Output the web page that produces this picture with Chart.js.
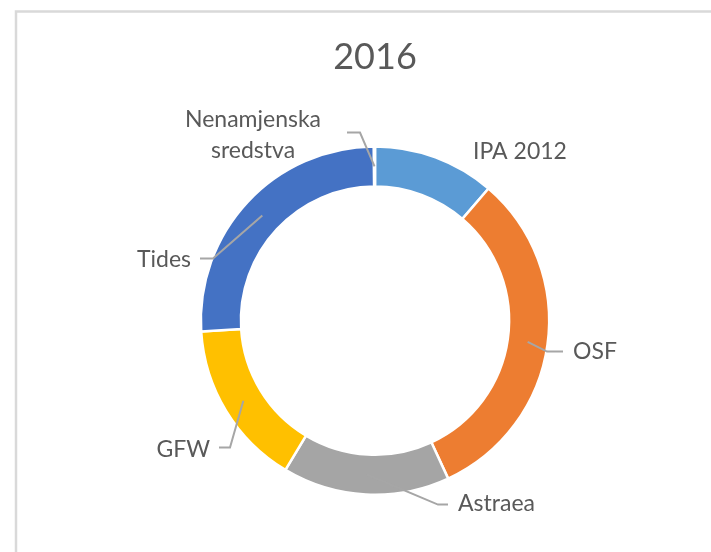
<!DOCTYPE html>
<html>
<head>
<meta charset="utf-8">
<script src="https://cdn.jsdelivr.net/npm/chart.js@4"></script>
<style>
  html, body { margin: 0; padding: 0; background: #fff; overflow: hidden; }
  #wrap { position: relative; width: 711px; height: 552px; }
</style>
</head>
<body>
<div id="wrap"><canvas id="donut" width="711" height="552"></canvas></div>
<script>
const chartTitle = '2016';
const categories = ['IPA 2012', 'OSF', 'Astraea', 'GFW', 'Tides', ['Nenamjenska', 'sredstva']];
const shares = [11.3, 31.8, 15.5, 15.4, 25.9, 0.1];
const colors = ['#5B9BD5', '#ED7D31', '#A5A5A5', '#FFC000', '#4472C4', '#70AD47'];

// where each label sits, relative to the doughnut centre (elbow/end of the leader line)
const labelSpots = [
    { align: 'left',   text: [98, -169] },
    { align: 'left',   text: [198, 31],   elbow: [172, 31],   end: [188, 31] },
    { align: 'left',   text: [83, 183],   elbow: [63, 184],   end: [73, 184] },
    { align: 'right',  text: [-165, 129], elbow: [-145, 127], end: [-156, 127] },
    { align: 'right',  text: [-184, -61], elbow: [-162, -62], end: [-175, -62] },
    { align: 'center', text: [-122, -201], elbow: [-15, -188], end: [-28, -188], lineGap: 31 }
];

const FONT = 'Lato, "Open Sans", sans-serif';

const framePlugin = {
    id: 'frame',
    beforeDraw(chart) {
        const ctx = chart.ctx;
        ctx.save();
        ctx.strokeStyle = '#d9d9d9';
        ctx.lineWidth = 2.5;
        ctx.strokeRect(16, 11.5, 760, 600);
        ctx.restore();
    }
};

const labelPlugin = {
    id: 'sliceLabels',
    afterDatasetsDraw(chart) {
        const ctx = chart.ctx;
        const arcs = chart.getDatasetMeta(0).data;
        ctx.save();
        ctx.font = '23px ' + FONT;
        ctx.fillStyle = '#595959';
        ctx.strokeStyle = '#a6a6a6';
        ctx.lineWidth = 2;
        ctx.textBaseline = 'middle';
        arcs.forEach((arc, i) => {
            const spot = labelSpots[i];
            const cx = arc.x, cy = arc.y;
            if (spot.elbow) {
                const p = arc.tooltipPosition();
                ctx.beginPath();
                ctx.moveTo(p.x, p.y);
                ctx.lineTo(cx + spot.elbow[0], cy + spot.elbow[1]);
                ctx.lineTo(cx + spot.end[0], cy + spot.end[1]);
                ctx.stroke();
            }
            const lines = [].concat(categories[i]);
            ctx.textAlign = spot.align;
            lines.forEach((t, k) => {
                ctx.fillText(t, cx + spot.text[0], cy + spot.text[1] + k * (spot.lineGap || 0));
            });
        });
        ctx.restore();
    }
};

new Chart(document.getElementById('donut'), {
    type: 'doughnut',
    data: {
        labels: categories,
        datasets: [{
            data: shares,
            backgroundColor: colors,
            borderColor: '#ffffff',
            borderWidth: 2.5
        }]
    },
    options: {
        responsive: false,
        animation: false,
        cutout: '77%',
        layout: { padding: { top: 0, bottom: 56, left: 139, right: 100 } },
        plugins: {
            legend: { display: false },
            tooltip: { enabled: false },
            title: {
                display: true,
                text: chartTitle,
                color: '#595959',
                font: { family: FONT, size: 36, weight: 'normal', lineHeight: 1.2 },
                padding: { top: 36, bottom: 66 }
            }
        }
    },
    plugins: [framePlugin, labelPlugin]
});
</script>
</body>
</html>
